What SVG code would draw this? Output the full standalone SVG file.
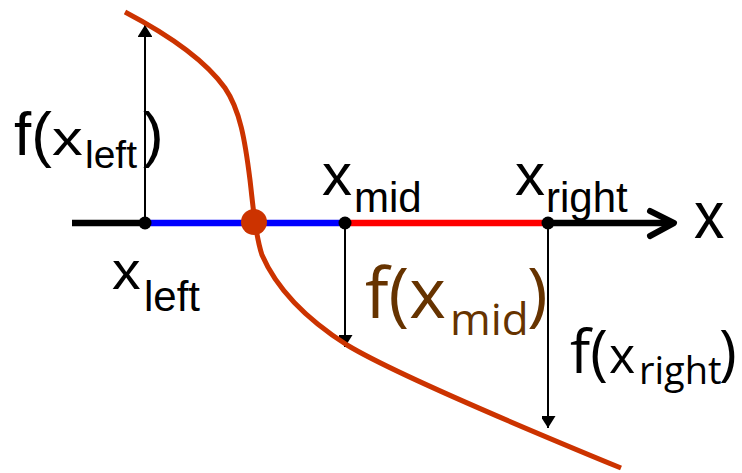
<svg xmlns="http://www.w3.org/2000/svg" width="742" height="473" viewBox="0 0 742 473">
  <style>
    .ax { stroke-width: 6.5; fill: none; stroke-linecap: butt; }
    .vline { stroke: #000; stroke-width: 2; fill: none; }
    .pt { fill: #000; }
    .lab { font-family: "Liberation Sans", Arial, sans-serif; fill: #000; }
    .os { font-family: "Open Sans", "Liberation Sans", sans-serif; }
  </style>
  <defs>
    <marker id="tri" markerUnits="userSpaceOnUse" markerWidth="16" markerHeight="14" refX="12" refY="7.5" orient="auto">
      <path d="M0,0 L12,7.5 L0,15 Z" fill="#000"/>
    </marker>
  </defs>

  <g id="axis">
    <line class="ax" x1="72" y1="223" x2="145" y2="223" stroke="#000"/>
    <line class="ax" x1="145" y1="223" x2="345" y2="223" stroke="#0000ff"/>
    <line class="ax" x1="345" y1="223" x2="548" y2="223" stroke="#ff0000"/>
    <line class="ax" x1="548" y1="223" x2="673" y2="223" stroke="#000"/>
    <path d="M650,211 L674,223 L650,236" fill="none" stroke="#000" stroke-width="6" stroke-linecap="round" stroke-linejoin="round"/>
  </g>

  <g id="connectors">
    <line class="vline" x1="145" y1="223" x2="145" y2="25" marker-end="url(#tri)"/>
    <line class="vline" x1="345" y1="223" x2="345" y2="347" marker-end="url(#tri)"/>
    <line class="vline" x1="548" y1="223" x2="548" y2="428" marker-end="url(#tri)"/>
  </g>

  <g id="curve">
    <path d="M125,12 C165,33 205,60 225,88 C240,110 245,140 250,180 C253,205 255,235 262,255 C275,285 300,315 347,345 C380,365 480,410 621,468" fill="none" stroke="#cc3300" stroke-width="5"/>
  </g>

  <g id="points">
    <circle class="pt" cx="145" cy="223" r="6.5"/>
    <circle class="pt" cx="345" cy="223" r="6.5"/>
    <circle class="pt" cx="548" cy="223" r="6.5"/>
    <circle id="root" cx="254" cy="222" r="13" fill="#cc3300"/>
  </g>

  <g id="label-f-xleft" class="lab">
    <text x="14" y="155" font-size="62">f(</text>
    <text transform="translate(52,155) scale(1.28,1)" font-size="48">x</text>
    <text x="85" y="168" font-size="39">left</text>
    <text x="143" y="155" font-size="62">)</text>
  </g>

  <g id="label-xleft" class="lab">
    <text transform="translate(112,289) scale(1.1,1)" font-size="52">x</text>
    <text x="144" y="311" font-size="42">left</text>
  </g>

  <g id="label-xmid" class="lab">
    <text x="322" y="195" font-size="60">x</text>
    <text x="354" y="212" font-size="42">mid</text>
  </g>

  <g id="label-xright" class="lab">
    <text x="515" y="195" font-size="60">x</text>
    <text x="546" y="212" font-size="42">right</text>
  </g>

  <g id="label-x" class="lab">
    <text transform="translate(694,238) scale(0.92,1)" font-size="66">x</text>
  </g>

  <g id="label-f-xmid" class="os" fill="#663300">
    <text x="365" y="318" font-size="70">f(x</text>
    <text x="450" y="335" font-size="44">mid</text>
    <text x="527" y="318" font-size="70">)</text>
  </g>

  <g id="label-f-xright" class="os" fill="#000">
    <text x="570" y="373" font-size="60">f(</text>
    <text x="609" y="373" font-size="50">x</text>
    <text x="639" y="384" font-size="38">right</text>
    <text x="719" y="373" font-size="60">)</text>
  </g>
</svg>
